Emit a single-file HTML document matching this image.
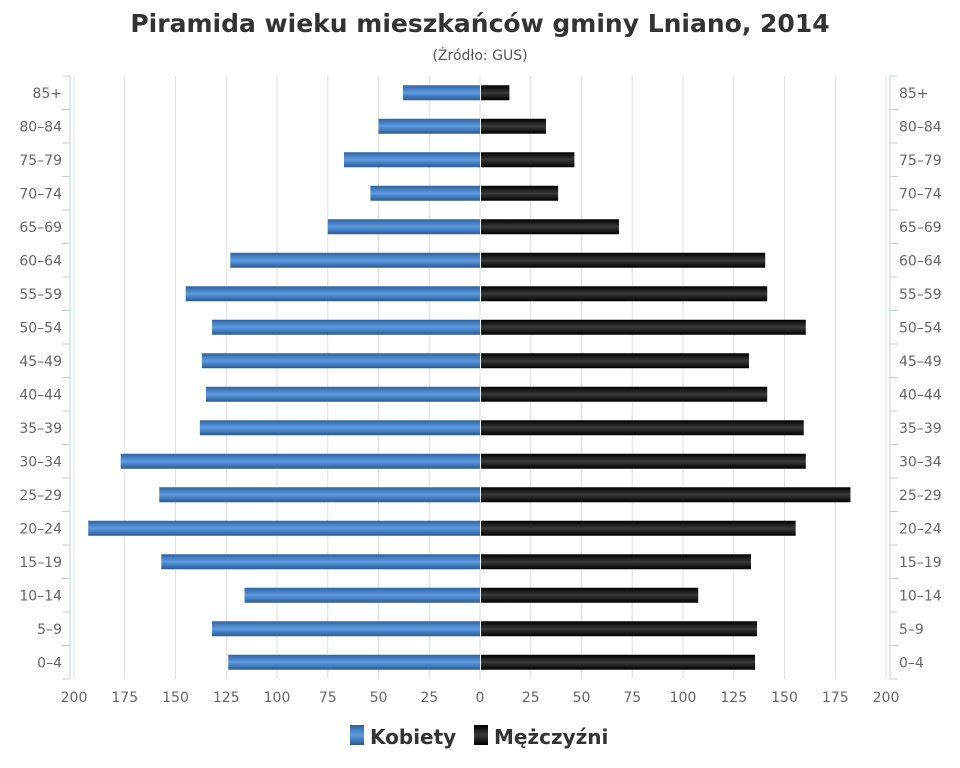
<!DOCTYPE html>
<html><head><meta charset="utf-8"><style>
body{margin:0;background:#fff;}
svg{display:block;font-family:"DejaVu Sans","Liberation Sans",sans-serif;}
</style></head><body>
<svg id="c" width="960" height="768">
<defs>
<linearGradient id="gb" x1="0" y1="0" x2="0" y2="1"><stop offset="0" stop-color="#2f63a0"/><stop offset="0.5" stop-color="#5d9be0"/><stop offset="1" stop-color="#2a5a96"/></linearGradient>
<linearGradient id="gk" x1="0" y1="0" x2="0" y2="1"><stop offset="0" stop-color="#000"/><stop offset="0.5" stop-color="#3a3a3a"/><stop offset="1" stop-color="#000"/></linearGradient>
</defs>
<text x="480" y="32" text-anchor="middle" font-size="25" font-weight="bold" fill="#333">Piramida wieku mieszkańców gminy Lniano, 2014</text>
<text x="480" y="60" text-anchor="middle" font-size="14" fill="#555">(Źródło: GUS)</text>
<g id="grid"></g><g id="bars"></g><g id="axes"></g>
<g>
<rect x="350" y="725" width="14" height="20" fill="url(#gb)"/>
<text x="370" y="744" font-size="20" font-weight="bold" fill="#333">Kobiety</text>
<rect x="474" y="725" width="14" height="20" fill="url(#gk)"/>
<text x="494" y="744" font-size="20" font-weight="bold" fill="#333">Mężczyźni</text>
</g>
</svg>
<script>
const categories=["85+","80–84","75–79","70–74","65–69","60–64","55–59","50–54","45–49","40–44","35–39","30–34","25–29","20–24","15–19","10–14","5–9","0–4"];
const women=[38,50,67,54,75,123,145,132,137,135,138,177,158,193,157,116,132,124];
const men=[14,32,46,38,68,140,141,160,132,141,159,160,182,155,133,107,136,135];
const xTicks=[200,175,150,125,100,75,50,25,0,25,50,75,100,125,150,175,200];
const NS="http://www.w3.org/2000/svg";
const cx=480,half=406,maxV=200,plotTop=76,plotBottom=679;
const band=(plotBottom-plotTop)/categories.length;
function xs(v){return v*half/maxV;}
function yc(i){return plotTop+band*(i+0.5);}
function mk(tag,attrs,parent){const e=document.createElementNS(NS,tag);for(const k in attrs)e.setAttribute(k,attrs[k]);parent.appendChild(e);return e;}
const grid=document.getElementById('grid'),bars=document.getElementById('bars'),axes=document.getElementById('axes');
xTicks.forEach((t,i)=>{
  const x=cx+(i-8)*xs(25);
  const l=mk('line',{x1:x,x2:x,y1:plotTop,y2:plotBottom,stroke:'#e0e0e0','stroke-width':1},grid);
  
  
  const tx=mk('text',{x:x,y:plotBottom+23,'text-anchor':'middle','font-size':14,fill:'#666'},axes);
  tx.textContent=t;
  
  
});
[cx-half-4,cx+half+4].forEach(x=>{
  const a=mk('line',{x1:x,x2:x,y1:plotTop,y2:plotBottom,stroke:'#c0d0e0'},axes);
  
  
});
for(let i=0;i<=categories.length;i++){
  const y=plotTop+band*i;
  mk('line',{x1:cx-half-12,x2:cx-half-4,y1:y,y2:y,stroke:'#c0d0e0'},axes);
  mk('line',{x1:cx+half+4,x2:cx+half+12,y1:y,y2:y,stroke:'#c0d0e0'},axes);
}
categories.forEach((c,i)=>{
  const y=yc(i);
  const l=mk('text',{x:62,y:y+5,'text-anchor':'end','font-size':14,fill:'#666'},axes);
  l.textContent=c;
  
  
  const r=mk('text',{x:899,y:y+5,'text-anchor':'start','font-size':14,fill:'#666'},axes);
  r.textContent=c;
  
  
  const w=xs(women[i]);
  const bw=mk('rect',{x:cx-w,y:y-7.5,width:w,height:15,fill:'url(#gb)'},bars);
  
  
  const m=xs(men[i]);
  const bm=mk('rect',{x:cx+1,y:y-7.5,width:m,height:15,fill:'url(#gk)'},bars);
  
  
});
</script>
</body></html>
